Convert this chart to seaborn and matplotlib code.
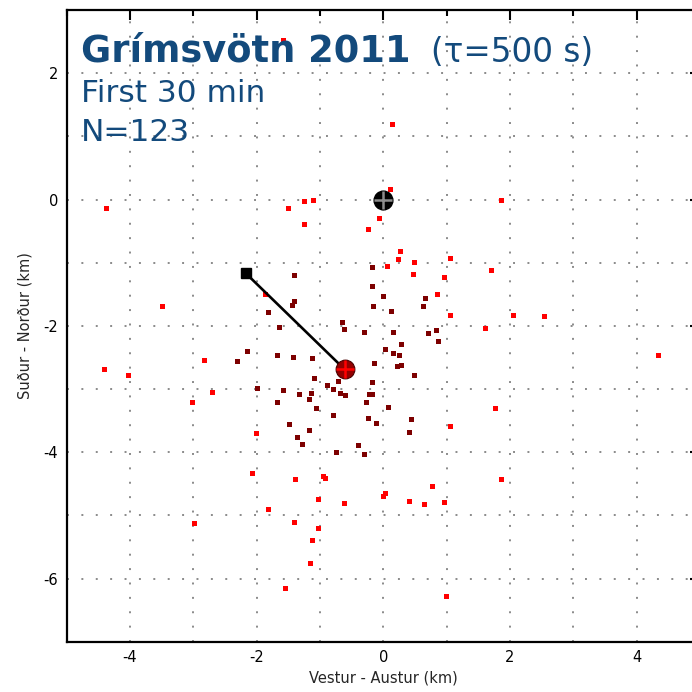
import matplotlib
matplotlib.use("Agg")
import matplotlib.pyplot as plt
import seaborn as sns
import pandas as pd
from matplotlib.ticker import MultipleLocator

# ---- data (km) ----
red_x = [0.11, -1.10, -1.25, -1.49, -1.24, -0.06, -0.23, 0.27, 0.24, 0.14,
         -1.58, 0.49, 1.06, 1.71, 0.06, 0.48, 0.96, 0.86, 1.06, 1.61,
         2.06, 2.54, 1.87, 4.35, 1.06, -1.38, -0.95, -0.91, -1.03, -0.62,
         0.04, 0.00, 0.41, 0.65, 0.77, 0.97, -1.40, -1.03, -1.12, -1.15,
         -1.54, 0.99, -3.02, -2.01, -2.06, -1.81, -2.98, -4.37, -1.86, -3.49,
         -2.82, -4.41, -4.02, -2.70, 1.77, 1.87]
red_y = [0.16, -0.01, -0.03, -0.14, -0.39, -0.30, -0.47, -0.83, -0.95, 1.19,
         2.52, -0.99, -0.94, -1.13, -1.06, -1.18, -1.24, -1.50, -1.83, -2.04,
         -1.83, -1.85, -0.02, -2.47, -3.59, -4.44, -4.39, -4.41, -4.75, -4.82,
         -4.66, -4.70, -4.78, -4.83, -4.54, -4.80, -5.11, -5.21, -5.40, -5.76,
         -6.16, -6.29, -3.22, -3.71, -4.34, -4.91, -5.13, -0.14, -1.50, -1.70,
         -2.55, -2.69, -2.79, -3.05, -3.31, -4.44]
dark_x = [-0.17, -1.41, -0.17, 0.01, 0.67, -1.40, -1.44, -0.15, 0.63, 0.13,
          -1.64, -0.65, -0.62, -0.30, 0.16, 0.84, 0.71, 0.87, 0.29, 0.04,
          0.16, 0.25, -1.67, -1.42, -1.12, -0.14, 0.29, 0.23, 0.49, -1.08,
          -0.71, -0.88, -0.17, -0.78, -1.57, -1.33, -1.13, -0.67, -0.60, -0.22,
          -0.17, -1.17, -1.67, -0.27, -1.05, 0.08, -0.79, -0.23, 0.44, -1.48,
          -0.11, -1.16, 0.41, -1.36, -1.27, -0.39, -0.74, -0.29, -1.82, -2.15,
          -2.31, -1.99]
dark_y = [-1.08, -1.21, -1.37, -1.54, -1.57, -1.62, -1.67, -1.69, -1.69, -1.77,
          -2.02, -1.95, -2.05, -2.11, -2.10, -2.08, -2.12, -2.25, -2.29, -2.38,
          -2.44, -2.47, -2.47, -2.50, -2.51, -2.60, -2.63, -2.65, -2.79, -2.83,
          -2.88, -2.94, -2.90, -3.00, -3.03, -3.08, -3.07, -3.07, -3.11, -3.09,
          -3.09, -3.16, -3.22, -3.22, -3.31, -3.30, -3.42, -3.46, -3.49, -3.56,
          -3.54, -3.65, -3.69, -3.77, -3.88, -3.90, -4.00, -4.04, -1.79, -2.40,
          -2.57, -2.99]
groups = ["outer", "core"]
vent_xy = [0.0, 0.0]
centroid_xy = [-0.61, -2.69]
start_xy = [-2.17, -1.17]
x_ticks = [-4, -2, 0, 2, 4]
y_ticks = [-6, -4, -2, 0, 2]

df = pd.DataFrame({
    "x": red_x + dark_x,
    "y": red_y + dark_y,
    "g": [groups[0]] * len(red_x) + [groups[1]] * len(dark_x),
})

sns.set_style("white")
plt.rcParams["font.family"] = ["DejaVu Sans"]
plt.rcParams["axes.unicode_minus"] = False

fig = plt.figure(figsize=(6.92, 6.92), dpi=100)
ax = fig.add_axes([66.7 / 692, 50.3 / 692, 633.3 / 692, 631.7 / 692])

sns.scatterplot(data=df, x="x", y="y", hue="g", hue_order=groups,
                palette={"outer": "#ff0000", "core": "#7d0000"},
                marker="s", s=13, linewidth=0, legend=False, ax=ax, zorder=3)

# line from start to centroid
ax.plot([start_xy[0], centroid_xy[0]], [start_xy[1], centroid_xy[1]],
        color="black", lw=1.9, zorder=4, solid_capstyle="butt")
ax.plot(start_xy[0], start_xy[1], marker="s", ms=7.2, color="black", zorder=5)

# vent
ax.plot(vent_xy[0], vent_xy[1], marker="o", ms=13.5, color="black", zorder=5)
ax.plot(vent_xy[0], vent_xy[1], marker="+", ms=13, mew=1.8, color="#8c8c8c", zorder=6)
# centroid
ax.plot(centroid_xy[0], centroid_xy[1], marker="o", ms=13.5, color="#930000",
        mec="#4a0000", mew=0.8, zorder=5)
ax.plot(centroid_xy[0], centroid_xy[1], marker="+", ms=13, mew=1.8, color="#ff0000", zorder=6)

ax.set_xlim(-5, 5)
ax.set_ylim(-7, 3)
ax.xaxis.set_major_locator(MultipleLocator(2))
ax.xaxis.set_minor_locator(MultipleLocator(1))
ax.yaxis.set_major_locator(MultipleLocator(2))
ax.yaxis.set_minor_locator(MultipleLocator(1))
ax.set_xticks(x_ticks)
ax.set_yticks(y_ticks)
ax.tick_params(which="both", direction="in", top=True, right=True,
               width=1.5, colors="black", labelsize=10.5)
ax.tick_params(which="major", length=7.5, pad=6)
ax.tick_params(which="minor", length=4)
for sp in ax.spines.values():
    sp.set_linewidth(1.6)
    sp.set_color("black")
    sp.set_visible(True)

ax.grid(True, which="both", color="#8a8a8a", linestyle=(0, (1, 6.4)), lw=1.4, zorder=0)
ax.set_axisbelow(True)

ax.set_xlabel("Vestur - Austur (km)", fontsize=10.5, labelpad=4)
ax.set_ylabel("Suður - Norður (km)", fontsize=10.5, labelpad=8)

blue = "#134a7c"
ax.text(0.0226, 0.9177, "Grímsvötn 2011", transform=ax.transAxes, fontsize=26.5,
        fontweight="bold", color=blue, va="baseline", ha="left", zorder=7)
ax.text(0.575, 0.9177, "(τ=500 s)", transform=ax.transAxes, fontsize=23.5,
        color=blue, va="baseline", ha="left", zorder=7)
ax.text(0.0226, 0.8548, "First 30 min", transform=ax.transAxes, fontsize=22.5,
        color=blue, va="baseline", ha="left", zorder=7)
ax.text(0.0226, 0.7931, "N=123", transform=ax.transAxes, fontsize=22.5,
        color=blue, va="baseline", ha="left", zorder=7)

fig.savefig("out.png", dpi=100)
